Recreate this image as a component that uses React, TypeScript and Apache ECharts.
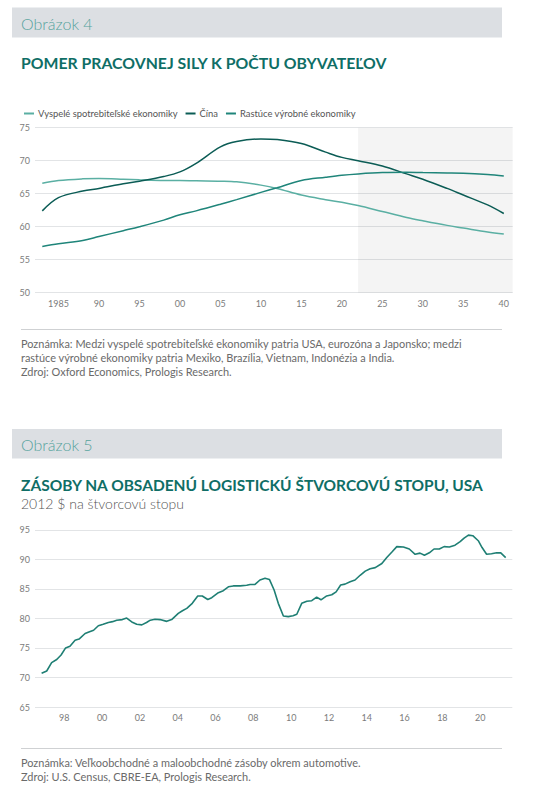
import React, { useEffect, useRef } from "react";
import * as echarts from "echarts";

// ---- Chart 1 data (Obrázok 4) ----
const years1 = [1983, 1985, 1988, 1990, 1993, 1995, 1998, 2000, 2002, 2005, 2007, 2010, 2012, 2015, 2018, 2020, 2022, 2025, 2028, 2030, 2033, 2035, 2038, 2040];
const advanced = [66.6, 67.0, 67.25, 67.3, 67.2, 67.1, 67.0, 67.0, 66.95, 66.9, 66.8, 66.3, 65.8, 64.8, 64.1, 63.7, 63.2, 62.3, 61.4, 60.9, 60.2, 59.8, 59.2, 58.9];
const china = [62.4, 64.4, 65.4, 65.8, 66.5, 66.9, 67.6, 68.3, 69.6, 72.1, 72.9, 73.3, 73.2, 72.6, 71.3, 70.5, 70.0, 69.2, 68.0, 67.2, 65.8, 64.8, 63.3, 62.0];
const emerging = [57.0, 57.4, 57.9, 58.5, 59.4, 60.0, 61.0, 61.8, 62.4, 63.4, 64.1, 65.2, 65.9, 67.0, 67.5, 67.8, 68.0, 68.2, 68.25, 68.2, 68.15, 68.1, 67.9, 67.7];
const seriesNames1 = ["Vyspelé spotrebiteľské ekonomiky", "Čína", "Rastúce výrobné ekonomiky"];
const xTicks1 = [1985, 1990, 1995, 2000, 2005, 2010, 2015, 2020, 2025, 2030, 2035, 2040];
const forecastStart = 2022;

// ---- Chart 2 data (Obrázok 5) ----
const time2 = [
  1996.8, 1997.07, 1997.33, 1997.6, 1997.83, 1998.07, 1998.3, 1998.57, 1998.78, 1999.1, 1999.3, 1999.55, 1999.8,
  2000.06, 2000.33, 2000.55, 2000.77, 2001.07, 2001.3, 2001.57, 2001.83, 2002.1, 2002.35, 2002.55, 2002.8,
  2003.06, 2003.42, 2003.68, 2004.03, 2004.25, 2004.48, 2004.77, 2005.06, 2005.3, 2005.59, 2005.8,
  2006.15, 2006.41, 2006.68, 2006.94, 2007.3, 2007.65, 2007.83, 2008.09, 2008.35, 2008.62, 2008.85,
  2009.1, 2009.32, 2009.59, 2009.85, 2010.1, 2010.3, 2010.56, 2010.83, 2011.09, 2011.35, 2011.58, 2011.88,
  2012.15, 2012.38, 2012.62, 2012.85, 2013.12, 2013.38, 2013.65, 2013.92, 2014.18, 2014.45, 2014.8,
  2015.06, 2015.32, 2015.59, 2015.94, 2016.25, 2016.56, 2016.82, 2017.05, 2017.31, 2017.56, 2017.84,
  2018.09, 2018.37, 2018.67, 2018.94, 2019.15, 2019.38, 2019.61, 2019.9, 2020.1, 2020.34, 2020.6, 2020.87,
  2021.09, 2021.35,
];
const inventory = [
  70.7, 71.1, 72.5, 73.05, 73.8, 75.0, 75.3, 76.3, 76.5, 77.45, 77.7, 78.0, 78.75,
  79.0, 79.3, 79.45, 79.7, 79.8, 80.05, 79.4, 79.0, 78.9, 79.3, 79.7, 79.85,
  79.8, 79.5, 79.8, 80.85, 81.3, 81.7, 82.55, 83.8, 83.8, 83.2, 83.5,
  84.35, 84.7, 85.35, 85.5, 85.5, 85.6, 85.75, 85.75, 86.5, 86.8, 86.6,
  84.8, 82.55, 80.4, 80.3, 80.45, 80.7, 82.55, 82.9, 83.0, 83.6, 83.15, 83.8,
  84.0, 84.5, 85.65, 85.8, 86.2, 86.5, 87.3, 88.0, 88.4, 88.6, 89.3,
  90.3, 91.2, 92.15, 92.1, 91.75, 90.85, 91.05, 90.7, 91.1, 91.75, 91.75,
  92.15, 92.1, 92.4, 93.0, 93.6, 94.1, 94.0, 93.15, 92.0, 90.85, 90.95, 91.1,
  91.1, 90.3,
];
const xTicks2 = [1998, 2000, 2002, 2004, 2006, 2008, 2010, 2012, 2014, 2016, 2018, 2020];

// ---- Texts ----
const fig1Label = "Obrázok 4";
const fig1Title = "POMER PRACOVNEJ SILY K POČTU OBYVATEĽOV";
const fig1Notes = [
  "Poznámka: Medzi vyspelé spotrebiteľské ekonomiky patria USA, eurozóna a Japonsko; medzi",
  "rastúce výrobné ekonomiky patria Mexiko, Brazília, Vietnam, Indonézia a India.",
  "Zdroj: Oxford Economics, Prologis Research.",
];
const fig2Label = "Obrázok 5";
const fig2Title = "ZÁSOBY NA OBSADENÚ LOGISTICKÚ ŠTVORCOVÚ STOPU, USA";
const fig2Subtitle = "2012 $ na štvorcovú stopu";
const fig2Notes = [
  "Poznámka: Veľkoobchodné a maloobchodné zásoby okrem automotive.",
  "Zdroj: U.S. Census, CBRE-EA, Prologis Research.",
];

const FONT = "Lato, 'Noto Sans', sans-serif";
const colors1 = ["#5aafa3", "#0b5c55", "#1f857a"];
const lineColor2 = "#1f7f74";
const gridColor = "#e2e4e6";
const labelColor = "#7b7b7b";

const yy = (v: number) => String(v % 100).padStart(2, "0");

export default function App() {
  const ref = useRef<HTMLDivElement>(null);
  useEffect(() => {
    if (!ref.current) return;
    const chart = echarts.init(ref.current, undefined, { renderer: "svg" });

    const txt = (text: string, x: number, y: number, size: number, fill: string, weight: any = "normal") => ({
      type: "text",
      x,
      y,
      silent: true,
      style: { text, fill, fontSize: size, fontFamily: FONT, fontWeight: weight, verticalAlign: "middle", align: "left" },
    });

    const graphics: any[] = [
      { type: "rect", shape: { x: 12, y: 7.5, width: 490, height: 30 }, style: { fill: "#dcdfe3" }, silent: true },
      txt(fig1Label, 21, 23, 16, "#56a39d", 300),
      txt(fig1Title, 21, 62, 15.8, "#0f6e66", "bold"),
      { type: "line", shape: { x1: 21, y1: 329.5, x2: 502, y2: 329.5 }, style: { stroke: "#cfd1d3", lineWidth: 1 }, silent: true },
      ...fig1Notes.map((t, i) => txt(t, 21, 343.5 + i * 14, 10.95, "#6a6a6a")),
      { type: "rect", shape: { x: 12, y: 429, width: 490, height: 29.5 }, style: { fill: "#dcdfe3" }, silent: true },
      txt(fig2Label, 21, 444, 16, "#56a39d", 300),
      txt(fig2Title, 21, 484.5, 15.5, "#0f6e66", "bold"),
      txt(fig2Subtitle, 21, 503.5, 14, "#555555", 300),
      { type: "line", shape: { x1: 21, y1: 748.5, x2: 502, y2: 748.5 }, style: { stroke: "#cfd1d3", lineWidth: 1 }, silent: true },
      ...fig2Notes.map((t, i) => txt(t, 21, 762.5 + i * 14.3, 10.95, "#6a6a6a")),
    ];

    const vals1 = [advanced, china, emerging];

    const yAxisCommon = {
      type: "value",
      interval: 5,
      axisLine: { show: false },
      axisTick: { show: false },
      axisLabel: { color: labelColor, fontSize: 9, fontFamily: FONT, margin: 5 },
      splitLine: { lineStyle: { color: gridColor, width: 1 } },
    };

    chart.setOption({
      animation: false,
      textStyle: { fontFamily: FONT },
      graphic: graphics,
      legend: {
        data: seriesNames1,
        left: 19,
        top: 104,
        itemWidth: 10,
        itemHeight: 2,
        itemGap: 8,
        icon: "rect",
        textStyle: { fontSize: 9.4, color: "#555", fontFamily: FONT, padding: [0, 0, 0, -1] },
      },
      grid: [
        { left: 35, top: 127.7, width: 477.7, height: 165, containLabel: false },
        { left: 35, top: 529.8, width: 477.3, height: 177.2, containLabel: false },
      ],
      xAxis: [
        {
          type: "value",
          gridIndex: 0,
          min: 1982.1,
          max: 2041.1,
          axisLine: { show: false },
          axisTick: { show: false },
          splitLine: { show: false },
          axisLabel: {
            customValues: xTicks1,
            color: labelColor,
            fontSize: 9,
            fontFamily: FONT,
            margin: 6,
            formatter: (v: number) => (v === 1985 ? "1985" : yy(v)),
          },
        },
        {
          type: "value",
          gridIndex: 1,
          min: 1996.45,
          max: 2021.7,
          axisLine: { show: false },
          axisTick: { show: false },
          splitLine: { show: false },
          axisLabel: {
            customValues: xTicks2,
            color: labelColor,
            fontSize: 9,
            fontFamily: FONT,
            margin: 6,
            formatter: (v: number) => yy(v),
          },
        },
      ],
      yAxis: [
        { ...yAxisCommon, gridIndex: 0, min: 50, max: 75 },
        { ...yAxisCommon, gridIndex: 1, min: 65, max: 95 },
      ],
      series: [
        ...seriesNames1.map((name, i) => ({
          name,
          type: "line",
          xAxisIndex: 0,
          yAxisIndex: 0,
          data: years1.map((y, j) => [y, vals1[i][j]]),
          smooth: 0.35,
          showSymbol: false,
          symbol: "none",
          lineStyle: { color: colors1[i], width: 1.5 },
          itemStyle: { color: colors1[i] },
          z: 3 + i,
          markArea:
            i === 0
              ? {
                  silent: true,
                  itemStyle: { color: "rgba(0,0,0,0.045)" },
                  data: [[{ xAxis: forecastStart }, { xAxis: 2041.1 }]],
                }
              : undefined,
        })),
        {
          name: "inventory",
          type: "line",
          xAxisIndex: 1,
          yAxisIndex: 1,
          data: time2.map((t, j) => [t, inventory[j]]),
          showSymbol: false,
          symbol: "none",
          lineStyle: { color: lineColor2, width: 1.6 },
          itemStyle: { color: lineColor2 },
        },
      ],
    });
    return () => chart.dispose();
  }, []);
  return (
    <div
      ref={ref}
      style={{ position: "absolute", left: 0, top: 0, width: 535, height: 795, background: "#fff" }}
    />
  );
}
